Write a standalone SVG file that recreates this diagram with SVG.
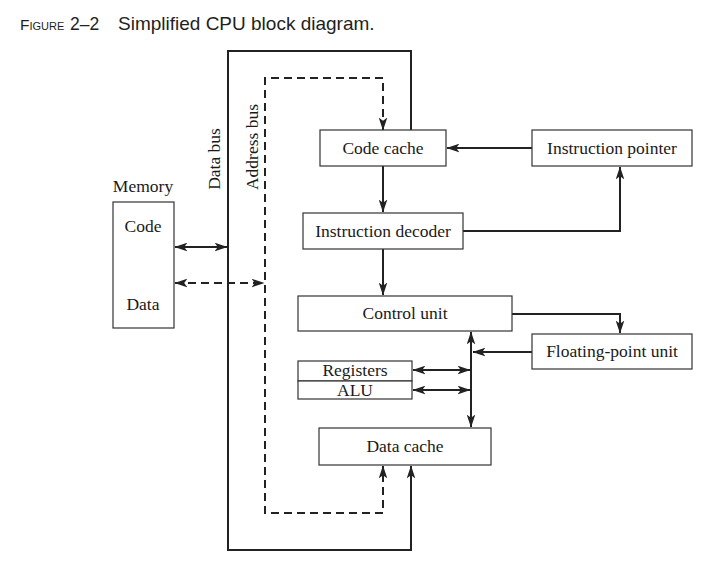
<svg xmlns="http://www.w3.org/2000/svg" width="722" height="572" viewBox="0 0 722 572">
<style>
.box{fill:#fff;stroke:#333;stroke-width:1.2}
.lbl{font-family:"Liberation Serif","Times New Roman",serif;font-size:17.5px;fill:#1a1a1a;text-anchor:middle}
.ln{fill:none;stroke:#222;stroke-width:2}
.dash{fill:none;stroke:#222;stroke-width:2;stroke-dasharray:8 5}
.ttl{font-family:"Liberation Sans",Arial,sans-serif;fill:#231f20}
</style>
<defs>
<marker id="ah" markerUnits="userSpaceOnUse" markerWidth="13" markerHeight="9" refX="11.5" refY="4" orient="auto-start-reverse" viewBox="0 0 12 8">
<path d="M0,0 L12,4 L0,8 L3,4 z" fill="#222"/>
</marker>
</defs>
<rect width="722" height="572" fill="#fff"/>
<g id="title">
<text class="ttl" x="20" y="30" font-size="15.5" font-variant="small-caps">Figure</text>
<text class="ttl" x="70" y="30" font-size="17.5">2–2</text>
<text class="ttl" x="118" y="30" font-size="19">Simplified CPU block diagram.</text>
</g>
<g id="connectors">
<path class="ln" d="M411,130 V51 H228 V550 H411 V466" marker-end="url(#ah)"/>
<path class="dash" d="M383,130 V78 H265 V513 H383 V466" marker-start="url(#ah)" marker-end="url(#ah)"/>
<path class="ln" d="M175,247 H227" marker-start="url(#ah)" marker-end="url(#ah)"/>
<path class="dash" d="M175,283 H264" marker-start="url(#ah)" marker-end="url(#ah)"/>
<path class="ln" d="M532,148 H447" marker-end="url(#ah)"/>
<path class="ln" d="M383,166 V212" marker-end="url(#ah)"/>
<path class="ln" d="M463,231 H620 V167" marker-end="url(#ah)"/>
<path class="ln" d="M383,249 V295" marker-end="url(#ah)"/>
<path class="ln" d="M512,314 H620 V333" marker-end="url(#ah)"/>
<path class="ln" d="M471,332 V427" marker-start="url(#ah)" marker-end="url(#ah)"/>
<path class="ln" d="M532,352 H473" marker-end="url(#ah)"/>
<path class="ln" d="M413,370 H470" marker-start="url(#ah)" marker-end="url(#ah)"/>
<path class="ln" d="M413,390 H470" marker-start="url(#ah)" marker-end="url(#ah)"/>
</g>
<g id="bus-labels">
<text class="lbl" transform="translate(220,159) rotate(-90)">Data bus</text>
<text class="lbl" transform="translate(258,147) rotate(-90)">Address bus</text>
</g>
<g id="memory">
<text class="lbl" x="143" y="192">Memory</text>
<rect class="box" x="113" y="202" width="61" height="126"/>
<text class="lbl" x="143" y="232">Code</text>
<text class="lbl" x="143" y="310">Data</text>
</g>
<g id="code-cache">
<rect class="box" x="320" y="130" width="126" height="36"/>
<text class="lbl" x="383" y="153.5">Code cache</text>
</g>
<g id="instruction-pointer">
<rect class="box" x="532" y="130" width="160" height="36"/>
<text class="lbl" x="612" y="153.5">Instruction pointer</text>
</g>
<g id="instruction-decoder">
<rect class="box" x="303" y="213" width="160" height="36"/>
<text class="lbl" x="383" y="236.5">Instruction decoder</text>
</g>
<g id="control-unit">
<rect class="box" x="298" y="296" width="214" height="35"/>
<text class="lbl" x="405" y="319">Control unit</text>
</g>
<g id="fpu">
<rect class="box" x="532" y="334" width="160" height="35"/>
<text class="lbl" x="612" y="357">Floating-point unit</text>
</g>
<g id="registers">
<rect class="box" x="298" y="361" width="114" height="20"/>
<text class="lbl" x="355" y="376">Registers</text>
</g>
<g id="alu">
<rect class="box" x="298" y="381" width="114" height="18"/>
<text class="lbl" x="355" y="395.5">ALU</text>
</g>
<g id="data-cache">
<rect class="box" x="319" y="428" width="172" height="37"/>
<text class="lbl" x="405" y="452">Data cache</text>
</g>
</svg>
